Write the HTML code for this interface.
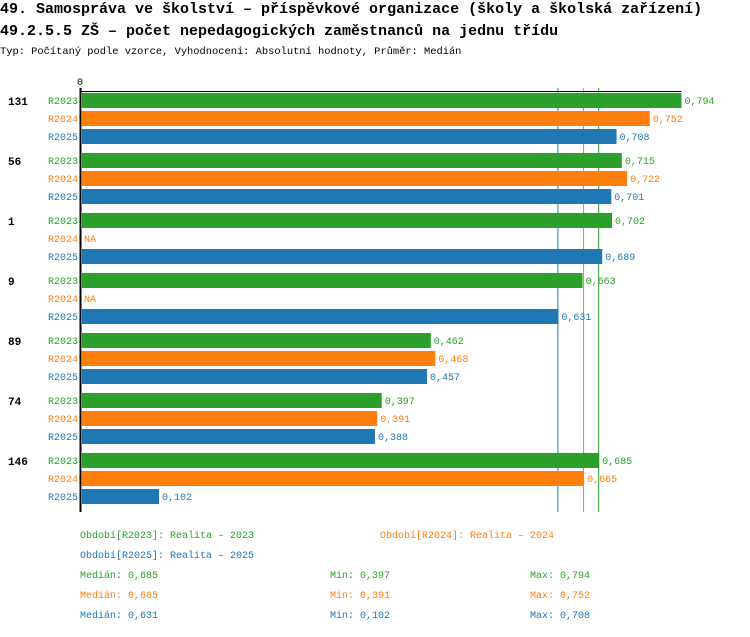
<!DOCTYPE html>
<html><head><meta charset="utf-8"><style>
body{margin:0;background:#fff;width:750px;height:632px;overflow:hidden}
svg text{font-family:"Liberation Mono",monospace}
</style></head><body>
<svg width="750" height="632" xmlns="http://www.w3.org/2000/svg" id="chart">
<text x="0" y="13" font-size="15" font-weight="bold" fill="#000">49. Samospráva ve školství – příspěvkové organizace (školy a školská zařízení)</text>
<text x="0" y="35" font-size="15" font-weight="bold" fill="#000">49.2.5.5 ZŠ – počet nepedagogických zaměstnanců na jednu třídu</text>
<text x="0" y="54" font-size="10.4" fill="#000">Typ: Počítaný podle vzorce, Vyhodnocení: Absolutní hodnoty, Průměr: Medián</text>
<g id="lines"></g>
<g id="plot"></g>
<g id="legend"></g>
</svg>
<script>
const groups=["131","56","1","9","89","74","146"];
const r2023=[0.794,0.715,0.702,0.663,0.462,0.397,0.685];
const r2024=[0.752,0.722,null,null,0.468,0.391,0.665];
const r2025=[0.708,0.701,0.689,0.631,0.457,0.388,0.102];
const seriesNames=["R2023","R2024","R2025"];
const colors=["#2ca02c","#ff7f0e","#1f77b4"];
const medians=[0.685,0.665,0.631];
const mins=[0.397,0.391,0.102];
const maxs=[0.794,0.752,0.708];
const NS="http://www.w3.org/2000/svg";
const x0=82,scale=755;
const xs=v=>x0+v*scale;
const plot=document.getElementById('plot');
const linesG=document.getElementById('lines');
function mk(tag,attrs,parent){const e=document.createElementNS(NS,tag);for(const k in attrs)e.setAttribute(k,attrs[k]);parent.appendChild(e);return e;}
const fmt=v=>v.toFixed(3).replace('.',',');
const all=[r2023,r2024,r2025];
medians.forEach((m,i)=>{
  const ln=mk('line',{x1:xs(m)-0.5,x2:xs(m)-0.5,y1:88,y2:512,stroke:colors[i],'stroke-width':1},linesG);
  
  
});
groups.forEach((g,gi)=>{
  const top=93+gi*60;
  const t=mk('text',{x:8,y:top+12,'font-size':11,'font-weight':'bold',fill:'#000'},plot);
  t.textContent=g;
  
  
  all.forEach((s,si)=>{
    const y=top+si*18;
    const l=mk('text',{x:78,y:y+11,'font-size':10,fill:colors[si],'text-anchor':'end'},plot);
    l.textContent=seriesNames[si];
    
    
    const v=s[gi];
    if(v==null){
      const na=mk('text',{x:84,y:y+11,'font-size':10,fill:colors[si]},plot);
      na.textContent='NA';
      
      
      return;
    }
    const r=mk('rect',{x:x0,y:y,width:xs(v)-x0,height:15,fill:colors[si]},plot);
    
    
    const vl=mk('text',{x:xs(v)+3,y:y+11,'font-size':10,fill:colors[si]},plot);
    vl.textContent=fmt(v);
    
    
  });
});
const ax=mk('line',{x1:80.5,x2:80.5,y1:88,y2:512,stroke:'#000','stroke-width':2},plot);


const hx=mk('line',{x1:80,x2:xs(0.794),y1:91.5,y2:91.5,stroke:'#000','stroke-width':1},plot);


const z=mk('text',{x:80,y:85,'font-size':10,fill:'#000','text-anchor':'middle'},plot);
z.textContent='0';


const leg=document.getElementById('legend');
function lt(x,y,c,s,name){const e=mk('text',{x:x,y:y,'font-size':10,fill:c},leg);e.textContent=s;}
lt(80,538,colors[0],'Období[R2023]: Realita – 2023','legend-entry');
lt(380,538,colors[1],'Období[R2024]: Realita – 2024','legend-entry');
lt(80,558,colors[2],'Období[R2025]: Realita – 2025','legend-entry');
for(let i=0;i<3;i++){
  const y=578+i*20;
  lt(80,y,colors[i],'Medián: '+fmt(medians[i]),'median-stat');
  lt(330,y,colors[i],'Min: '+fmt(mins[i]),'min-stat');
  lt(530,y,colors[i],'Max: '+fmt(maxs[i]),'max-stat');
}
</script>
</body></html>
